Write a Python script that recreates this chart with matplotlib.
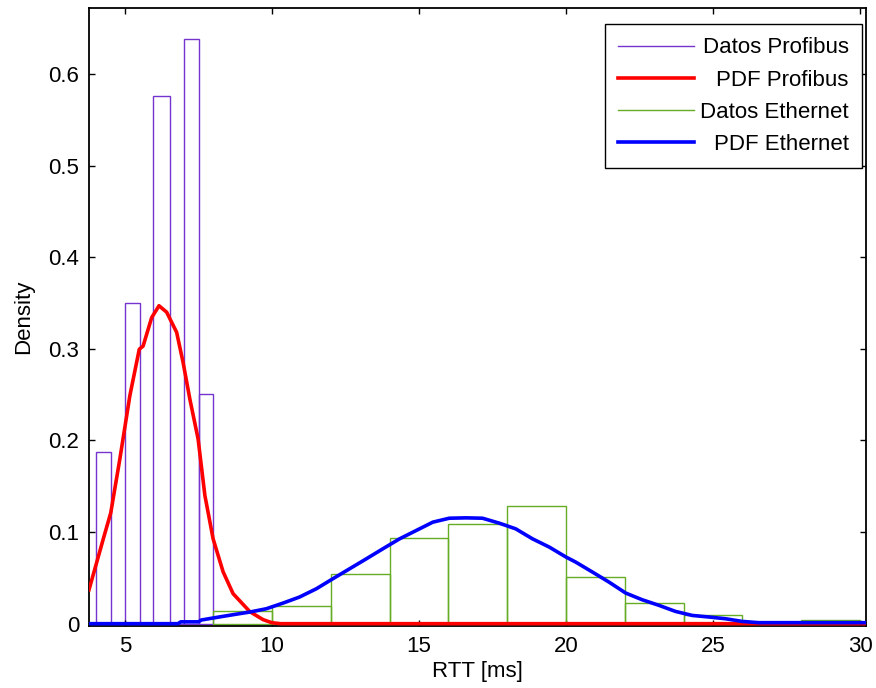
import numpy as np
import matplotlib
matplotlib.use("Agg")
from matplotlib import pyplot as plt
from matplotlib.lines import Line2D

plt.rcParams["font.family"] = ["Liberation Sans", "DejaVu Sans"]

# histogram of Profibus RTT (bin edges in ms, density per bin)
profibus_edges = [4.02, 4.52, 5.0, 5.5, 5.97, 6.53, 7.02, 7.51, 8.0]
profibus_density = [0.1877, 0, 0.3504, 0, 0.5755, 0, 0.638, 0.2502]

# histogram of Ethernet RTT
ethernet_edges = [8, 10, 12, 14, 16, 18, 20, 22, 24, 26, 28, 30]
ethernet_density = [0.0134, 0.0193, 0.0542, 0.0934, 0.1093, 0.1289,
                    0.0504, 0.0229, 0.0091, 0.001, 0.0036]

# fitted pdf curves
pdf_profibus_x = [3.78, 4.27, 4.52, 4.83, 5.17, 5.49, 5.62, 5.91, 6.16, 6.42,
                  6.76, 6.98, 7.21, 7.49, 7.72, 8.0, 8.34, 8.68, 9.25, 9.7,
                  10.0, 10.3, 30.2]
pdf_profibus_y = [0.037, 0.093, 0.121, 0.18, 0.249, 0.2996, 0.303, 0.334, 0.347,
                  0.340, 0.318, 0.285, 0.245, 0.2015, 0.14, 0.0926, 0.0566,
                  0.0327, 0.0131, 0.0044, 0.001, 0, 0]

pdf_ethernet_x = [3.78, 6.8, 6.9, 7.5, 7.6, 8.0, 8.68, 9.25, 9.81, 10.38, 10.94,
                  11.51, 12.07, 12.64, 13.21, 13.77, 14.34, 14.9, 15.47, 16.03,
                  16.6, 17.16, 17.73, 18.29, 18.86, 19.43, 20.0, 20.33, 20.9,
                  21.46, 22.03, 22.59, 23.16, 23.72, 24.29, 24.85, 25.42, 25.98,
                  26.55, 30.2]
pdf_ethernet_y = [0, 0, 0.002, 0.002, 0.004, 0.0062, 0.0098, 0.0127, 0.0163,
                  0.0225, 0.0291, 0.0381, 0.049, 0.0599, 0.0708, 0.0817, 0.0926,
                  0.1016, 0.1108, 0.1151, 0.1155, 0.1151, 0.1097, 0.1035, 0.0926,
                  0.0836, 0.0727, 0.0672, 0.0563, 0.0454, 0.0334, 0.0261, 0.020,
                  0.0134, 0.009, 0.0073, 0.0054, 0.0025, 0.0011, 0.0011]

labels = ["Datos Profibus", "PDF Profibus", "Datos Ethernet", "PDF Ethernet"]
yticks = [0, 0.1, 0.2, 0.3, 0.4, 0.5, 0.6]
ytick_labels = ["0", "0.1", "0.2", "0.3", "0.4", "0.5", "0.6"]
xticks = [5, 10, 15, 20, 25, 30]

purple = "#7435cf"
green = "#66ad26"
fs = 16

fig = plt.figure(figsize=(8.76, 6.88), dpi=100)
ax = fig.add_axes([0.1016, 0.0895, 0.8870, 0.8989])

pe = np.array(profibus_edges)
ax.bar(pe[:-1], profibus_density, width=np.diff(pe), align="edge",
       fill=False, edgecolor=purple, linewidth=1.0, zorder=1)
ax.plot(pdf_profibus_x, pdf_profibus_y, color="red", linewidth=2.6, zorder=3)
ee = np.array(ethernet_edges)
ax.bar(ee[:-1], ethernet_density, width=np.diff(ee), align="edge",
       fill=False, edgecolor=green, linewidth=1.0, zorder=2)
ax.plot(pdf_ethernet_x, pdf_ethernet_y, color="blue", linewidth=2.6, zorder=4)

ax.set_xlim(3.78, 30.2)
ax.set_ylim(-0.003, 0.672)
ax.set_xticks(xticks)
ax.set_xticklabels([str(v) for v in xticks])
ax.set_yticks(yticks)
ax.set_yticklabels(ytick_labels)
ax.tick_params(direction="in", length=4, width=1, top=True, right=True,
               labelsize=fs, pad=7)
for sp in ax.spines.values():
    sp.set_linewidth(1.3)
ax.set_xlabel("RTT [ms]", fontsize=fs, labelpad=3)
ax.set_ylabel("Density", fontsize=fs, labelpad=10)

handles = [
    Line2D([], [], color=purple, linewidth=1.0),
    Line2D([], [], color="red", linewidth=2.6),
    Line2D([], [], color=green, linewidth=1.0),
    Line2D([], [], color="blue", linewidth=2.6),
]
leg = ax.legend(handles, labels, loc="upper right", bbox_to_anchor=(0.995, 0.974),
                borderaxespad=0, fontsize=fs, fancybox=False, framealpha=1,
                edgecolor="black", handlelength=3.4, handletextpad=0.3,
                labelspacing=0.5, borderpad=0.6)
leg.get_frame().set_linewidth(1.0)

# right-align legend texts like MATLAB does
fig.canvas.draw()
widths = [t.get_window_extent().width for t in leg.get_texts()]
for t, w in zip(leg.get_texts(), widths):
    t.set_position((max(widths) - w, 0))

fig.savefig("out.png", dpi=100)
